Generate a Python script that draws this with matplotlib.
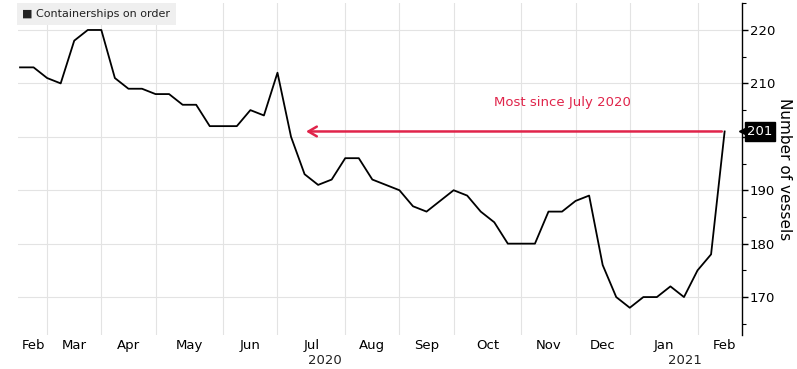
import matplotlib
matplotlib.use("Agg")
import matplotlib.pyplot as plt
import numpy as np

values = [213, 213, 211, 210, 218, 220, 220, 211, 209, 209, 208, 208, 206, 206,
          202, 202, 202, 205, 204, 212, 200, 193, 191, 192, 196, 196, 192, 191,
          190, 187, 186, 188, 190, 189, 186, 184, 180, 180, 180, 186, 186, 188,
          189, 176, 170, 168, 170, 170, 172, 170, 175, 178, 201]
month_labels = ["Feb", "Mar", "Apr", "May", "Jun", "Jul", "Aug", "Sep", "Oct",
                "Nov", "Dec", "Jan", "Feb"]
month_label_pos = [1, 4, 8, 12.5, 17, 21.5, 26, 30, 34.5, 39, 43, 47.5, 52]
month_grid_pos = [2, 6, 10, 15, 19, 24, 28, 32, 37, 41, 45, 50]
year_labels = ["2020", "2021"]
year_label_pos = [22.5, 49.1]
yticks = [170, 180, 190, 200, 210, 220]
ytick_labels = ["170", "180", "190", "", "210", "220"]
series_name = "Containerships on order"
annotation_text = "Most since July 2020"
arrow_target_idx = 20.9

plt.rcParams['font.family'] = ['DejaVu Sans']
W, H = 797, 369
fig = plt.figure(figsize=(W / 100, H / 100), dpi=100)
left, right, bottom, top = 18, 741.7, 335, 3
ax = fig.add_axes([left / W, 1 - bottom / H, (right - left) / W, (bottom - top) / H])

x = np.arange(len(values))
ax.plot(x, values, color="black", lw=1.3, zorder=3)

ax.set_xlim(-0.15, 53.26)
ax.set_ylim(162.9, 225.05)

for g in month_grid_pos:
    ax.axvline(g, color="#e3e3e3", lw=0.8, zorder=0)
for t in yticks:
    ax.axhline(t, color="#e3e3e3", lw=0.8, zorder=0)

for s in ["left", "top", "bottom"]:
    ax.spines[s].set_visible(False)
ax.spines["right"].set_color("black")
ax.spines["right"].set_linewidth(1.0)

ax.yaxis.tick_right()
ax.set_yticks(yticks)
ax.set_yticklabels(ytick_labels, fontsize=9.5)
ax.set_yticks(np.arange(165, 226, 10), minor=True)
ax.tick_params(axis="y", which="major", length=4, width=1, pad=2, color="black")
ax.tick_params(axis="y", which="minor", length=3, width=0.8, color="black")

ax.set_xticks(month_label_pos)
ax.set_xticklabels(month_labels, fontsize=9.5)
ax.tick_params(axis="x", length=0, pad=3)
for xp, lab in zip(year_label_pos, year_labels):
    ax.text(xp, -0.058, lab, transform=ax.get_xaxis_transform(), ha="center",
            va="top", fontsize=9.5, color="#222222")

ax.yaxis.set_label_position("right")
ax.set_ylabel("Number of vessels", rotation=270, fontsize=11, labelpad=1, va="bottom")

# legend
ax.text(0.006, 0.982, "\u25A0 " + series_name, transform=ax.transAxes, ha="left",
        va="top", fontsize=8, color="#222222",
        bbox=dict(boxstyle="square,pad=0.5", fc="#efefef", ec="none"), zorder=5)

# arrow annotation
red = "#e0244a"
last = len(values) - 1
ax.annotate("", xy=(arrow_target_idx, values[-1]), xytext=(last, values[-1]),
            arrowprops=dict(arrowstyle="->,head_length=0.6,head_width=0.35",
                            color=red, lw=1.8), zorder=4)
ax.text(40.0, 206.5, annotation_text, ha="center", va="center", fontsize=9.5, color=red)

# last value tag
ax.plot([1.0], [values[-1]], transform=ax.get_yaxis_transform(), marker="<",
        color="black", markersize=5, clip_on=False, zorder=6)
ax.annotate(str(values[-1]), xy=(1.0, values[-1]), xycoords=("axes fraction", "data"),
            xytext=(4, 0), textcoords="offset points", ha="left", va="center",
            fontsize=9.5, color="white",
            bbox=dict(boxstyle="square,pad=0.2", fc="black", ec="black"),
            annotation_clip=False, zorder=6)

fig.savefig("out.png", dpi=100)
